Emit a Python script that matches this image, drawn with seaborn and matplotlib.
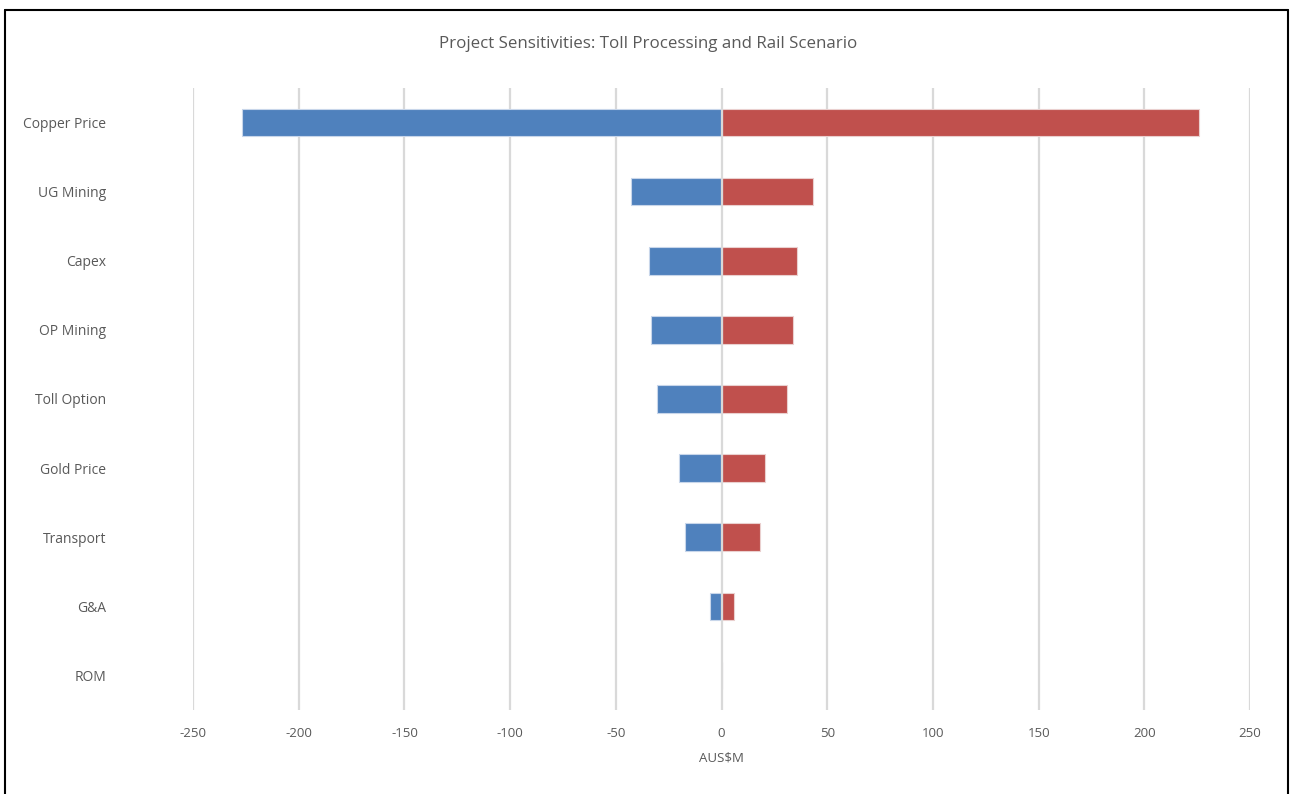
import matplotlib
matplotlib.use("Agg")
import matplotlib.pyplot as plt
import seaborn as sns
import pandas as pd
from matplotlib.lines import Line2D

# tornado chart data (AUS$M)
categories = ["Copper Price", "UG Mining", "Capex", "OP Mining", "Toll Option",
              "Gold Price", "Transport", "G&A", "ROM"]
downside = [-227, -43, -34.5, -33.5, -30.5, -20, -17.5, -5.5, 0]
upside = [226, 43.5, 35.5, 34, 31, 20.5, 18, 6, 0]
ticks = [-250, -200, -150, -100, -50, 0, 50, 100, 150, 200, 250]

df = pd.DataFrame({"factor": categories, "low": downside, "high": upside})

sns.set_style("white")
plt.rcParams["font.family"] = ["Open Sans", "DejaVu Sans"]

grey = "#595959"
fig = plt.figure(figsize=(12.92, 7.94), dpi=100)
ax = fig.add_axes([0.1494, 0.1058, 0.8181, 0.7834])

sns.barplot(data=df, x="low", y="factor", orient="h", color="#4F81BD",
            saturation=1, width=0.4, edgecolor="#c8d6ea", linewidth=0.8, ax=ax, zorder=2)
sns.barplot(data=df, x="high", y="factor", orient="h", color="#C0504D",
            saturation=1, width=0.4, edgecolor="#ead0cf", linewidth=0.8, ax=ax, zorder=2)

ax.set_xlim(-250, 250)
ax.set_ylim(8.5, -0.5)
ax.set_xticks(ticks)
ax.set_xticklabels([str(t) for t in ticks])
for t in ticks:
    ax.axvline(t, color="#D9D9D9", lw=1.6, zorder=3 if t == 0 else 1)

for s in ax.spines.values():
    s.set_visible(False)
ax.tick_params(axis="both", length=0, labelsize=9.5, labelcolor=grey)
ax.tick_params(axis="y", pad=62.5, labelsize=10)
ax.tick_params(axis="x", pad=12.5)
ax.set_ylabel("")
ax.set_xlabel("AUS$M", fontsize=9.5, color=grey, labelpad=8)

fig.text(0.5015, 0.944, "Project Sensitivities: Toll Processing and Rail Scenario",
         ha="center", va="center", fontsize=12.2, color=grey)

# outer chart frame
fx0, fx1, fy1 = 5 / 1292, 1288 / 1292, 1 - 10 / 794
for xs, ys in [([fx0, fx0], [0, fy1]), ([fx0, fx1], [fy1, fy1]), ([fx1, fx1], [fy1, 0])]:
    fig.add_artist(Line2D(xs, ys, color="black", lw=1.5, transform=fig.transFigure))

fig.savefig("out.png", dpi=100)
